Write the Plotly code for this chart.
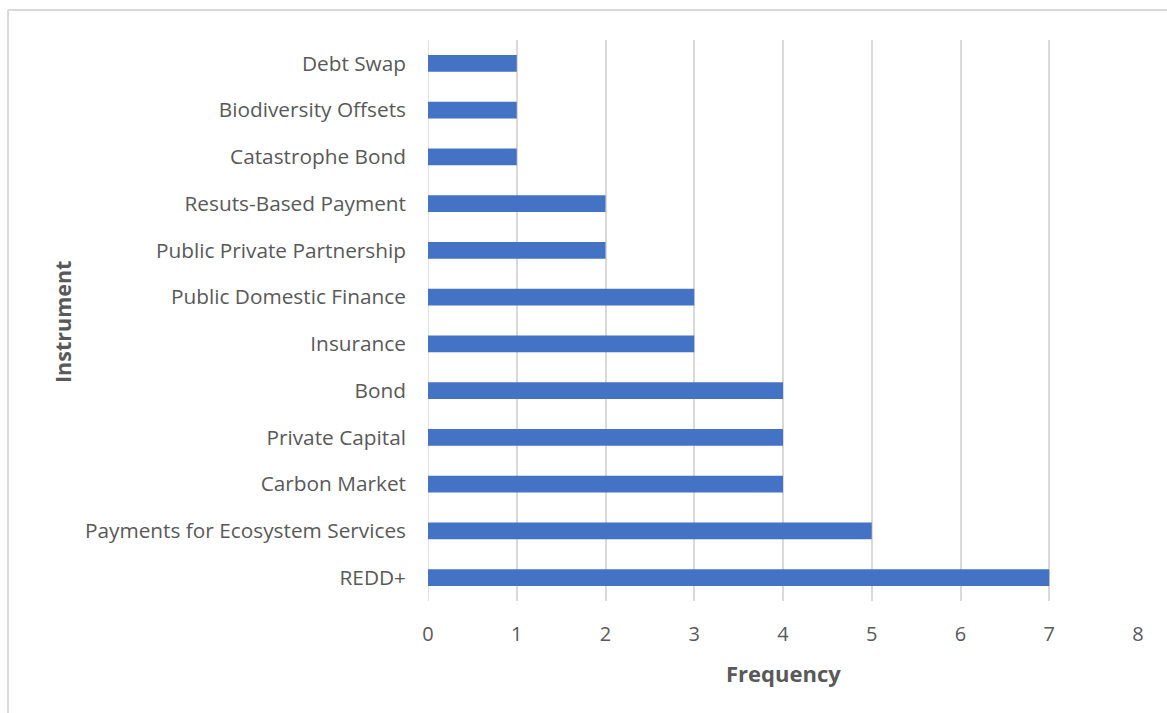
import plotly.graph_objects as go

instruments = [
    "REDD+",
    "Payments for Ecosystem Services",
    "Carbon Market",
    "Private Capital",
    "Bond",
    "Insurance",
    "Public Domestic Finance",
    "Public Private Partnership",
    "Resuts-Based Payment",
    "Catastrophe Bond",
    "Biodiversity Offsets",
    "Debt Swap",
]
frequency = [7, 5, 4, 4, 4, 3, 3, 2, 2, 1, 1, 1]
x_ticks = [0, 1, 2, 3, 4, 5, 6, 7, 8]

W, H = 1167, 713
L, R, T, B = 428, 29, 40, 112
pw, ph = W - L - R, H - T - B

font_family = "Open Sans, Lato, sans-serif"
text_color = "#595959"
grid_color = "#d9d9d9"

fig = go.Figure(
    go.Bar(
        x=frequency,
        y=instruments,
        orientation="h",
        marker=dict(color="#4472C4", line=dict(width=0)),
    )
)

def px_x(p):
    return (p - L) / pw

def px_y(p):
    return (H - B - p) / ph

fig.update_layout(
    width=W,
    height=H,
    margin=dict(l=L, r=R, t=T, b=B),
    paper_bgcolor="white",
    plot_bgcolor="white",
    bargap=0.64,
    showlegend=False,
    font=dict(family=font_family, color=text_color, size=18),
    xaxis=dict(
        range=[0, 8],
        tickvals=x_ticks,
        showgrid=True,
        gridcolor=grid_color,
        gridwidth=1.5,
        zeroline=False,
        showline=False,
        ticks="",
        ticklabelstandoff=19,
        tickfont=dict(size=20, color=text_color),
        fixedrange=True,
    ),
    yaxis=dict(
        categoryorder="array",
        categoryarray=instruments,
        showgrid=False,
        zeroline=False,
        showline=False,
        ticks="",
        ticklabelstandoff=21,
        tickfont=dict(size=20.8, color=text_color),
        fixedrange=True,
    ),
    annotations=[
        dict(
            text="<b>Frequency</b>",
            xref="paper", yref="paper",
            x=px_x(783), y=px_y(673),
            xanchor="center", yanchor="middle",
            showarrow=False,
            font=dict(size=22, color=text_color, family=font_family),
        ),
        dict(
            text="<b>Instrument</b>",
            xref="paper", yref="paper",
            x=px_x(62), y=px_y(322),
            xanchor="center", yanchor="middle",
            textangle=-90,
            showarrow=False,
            font=dict(size=21.5, color=text_color, family=font_family),
        ),
    ],
    shapes=[
        dict(type="line", xref="paper", yref="paper",
             x0=px_x(8), x1=px_x(W + 5), y0=px_y(10), y1=px_y(10),
             line=dict(color=grid_color, width=2)),
        dict(type="line", xref="paper", yref="paper",
             x0=px_x(8), x1=px_x(8), y0=px_y(10), y1=px_y(H + 5),
             line=dict(color=grid_color, width=2)),
        dict(type="line", xref="x", yref="paper",
             x0=0, x1=0, y0=0, y1=1,
             line=dict(color=grid_color, width=1.5), layer="below"),
    ],
)

fig.write_html("out.html")
